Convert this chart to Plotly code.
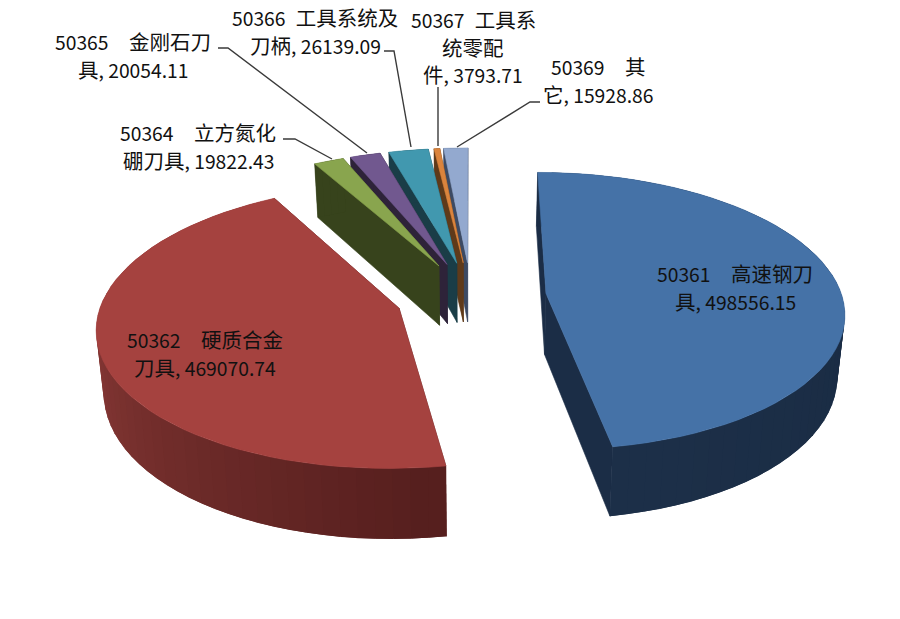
import math
import plotly.graph_objects as go

# --- data ---
codes = ["50361", "50362", "50364", "50365", "50366", "50367", "50369"]
gaps = ["\u3000", "\u3000", "\u3000", "\u3000", "\u2002", "\u2002", "\u3000"]
line1 = ["高速钢刀", "硬质合金", "立方氮化", "金刚石刀", "工具系统及", "工具系", "其"]
line2 = ["具", "刀具", "硼刀具", "具", "刀柄", "统零配|件", "它"]
values = [498556.15, 469070.74, 19822.43, 20054.11, 26139.09, 3793.71, 15928.86]
top_colors = ["#4572A7", "#A5423F", "#89A54E", "#71588F", "#4198AF", "#DB843D", "#93A9CF"]
wall_colors = ["#1B2D46", "#5A2120", "#37431C", "#2E2339", "#1A3D47", "#5F3A1A", "#3C4A63"]
label_x = [735, 205, 198, 133, 315, 473, 598]
label_y = [273, 339, 132, 41, 17, 19, 66]
LINE_STEP = 27.5

# --- projection of the tilted, exploded pie ---
CX, CY = 471, 296.5
RX, RY, K, DEPTH, EXPLODE = 296, 137, 0.125, 61, 0.255
BOTTOM_X = 0.98


def project(x, y, bottom=False):
    w = 1 + K * y
    sx, sy = RX * x / w, -RY * y / w
    if bottom:
        return CX + sx * BOTTOM_X, CY + sy + DEPTH / w
    return CX + sx, CY + sy


def mix(c1, c2, t):
    a = [int(c1[i:i + 2], 16) for i in (1, 3, 5)]
    b = [int(c2[i:i + 2], 16) for i in (1, 3, 5)]
    return "rgb(%d,%d,%d)" % tuple(a[i] + (b[i] - a[i]) * t for i in range(3))


fig = go.Figure()


def poly(points, color, edge=0.6):
    xs = [p[0] for p in points] + [points[0][0]]
    ys = [p[1] for p in points] + [points[0][1]]
    fig.add_trace(go.Scatter(x=xs, y=ys, mode="lines", fill="toself", fillcolor=color,
                             line=dict(color=color, width=edge), hoverinfo="skip", showlegend=False))


total = sum(values)
spans = []
start = 0.0
for v in values:
    end = start + v / total * 2 * math.pi
    spans.append((start, end))
    start = end


def draw_slice(i):
    a0, a1 = spans[i]
    mid = (a0 + a1) / 2
    ax, ay = EXPLODE * math.sin(mid), EXPLODE * math.cos(mid)
    def rim(t):
        return ax + math.sin(t), ay + math.cos(t)
    n = max(4, int((a1 - a0) / math.radians(3)))
    angles = [a0 + (a1 - a0) * j / n for j in range(n + 1)]
    # cut faces
    for t in (a1, a0):
        rx, ry = rim(t)
        poly([project(ax, ay), project(rx, ry), project(rx, ry, True), project(ax, ay, True)], wall_colors[i])
    # outer wall, shaded; each strip overlaps the next so no seams show
    order = list(range(n))
    if i == 1:
        order = order[::-1]
    for j in order:
        t0 = angles[j]
        t1 = angles[min(n, j + 2)] if i != 1 else angles[j + 1]
        t0 = t0 if i != 1 else angles[max(0, j - 1)]
        p0, p1 = rim(t0), rim(t1)
        if i == 1:
            s = min(1, max(0, (math.degrees(angles[j]) - 172) / 100))
            color = mix("#561F1E", "#8C3B38", s)
        elif i == 0:
            s = min(1, max(0, (math.degrees(angles[j]) - 90) / 80))
            color = mix("#1A2C44", "#1D3049", s)
        else:
            color = wall_colors[i]
        poly([project(*p0), project(*p1), project(*p1, True), project(*p0, True)], color, edge=0)
    # top
    pts = [project(ax, ay)] + [project(*rim(t)) for t in angles]
    poly(pts, top_colors[i])


for i in [6, 5, 4, 3, 2, 0, 1]:
    draw_slice(i)

# leader lines
leaders = [
    ([283, 295, 332], [139, 139, 159]),
    ([218, 228, 367], [48, 48, 153]),
    ([384, 394, 411], [51, 51, 147]),
    ([438, 438], [87, 146]),
    ([540, 530, 457], [102, 102, 147]),
]
for lx, ly in leaders:
    fig.add_trace(go.Scatter(x=lx, y=ly, mode="lines", line=dict(color="#3A3A3A", width=1.4),
                             hoverinfo="skip", showlegend=False))


def num(s):
    return f'<span style="font-size:19.3px">{s}</span>'


# labels, one annotation per line so the line pitch can match
for i in range(len(values)):
    parts = line2[i].split("|")
    lines = [num(codes[i]) + gaps[i] + line1[i]]
    lines += parts[:-1]
    lines.append(parts[-1] + num(f", {values[i]:.2f}"))
    for k, text in enumerate(lines):
        fig.add_annotation(x=label_x[i], y=label_y[i] + k * LINE_STEP, xref="x", yref="y",
                           showarrow=False, align="center", text=text,
                           font=dict(family="Noto Sans CJK SC", size=20.5, color="#111111"))

fig.update_xaxes(range=[0, 900], visible=False, fixedrange=True)
fig.update_yaxes(range=[619, 0], visible=False, fixedrange=True)
fig.update_layout(width=900, height=619, margin=dict(l=0, r=0, t=0, b=0),
                  paper_bgcolor="white", plot_bgcolor="white", showlegend=False)
# drop the page's default body margin so the plot fills the window exactly
fig.write_html("out.html", config={"displayModeBar": False},
               post_script="document.body.style.margin='0';document.body.style.overflow='hidden';")
